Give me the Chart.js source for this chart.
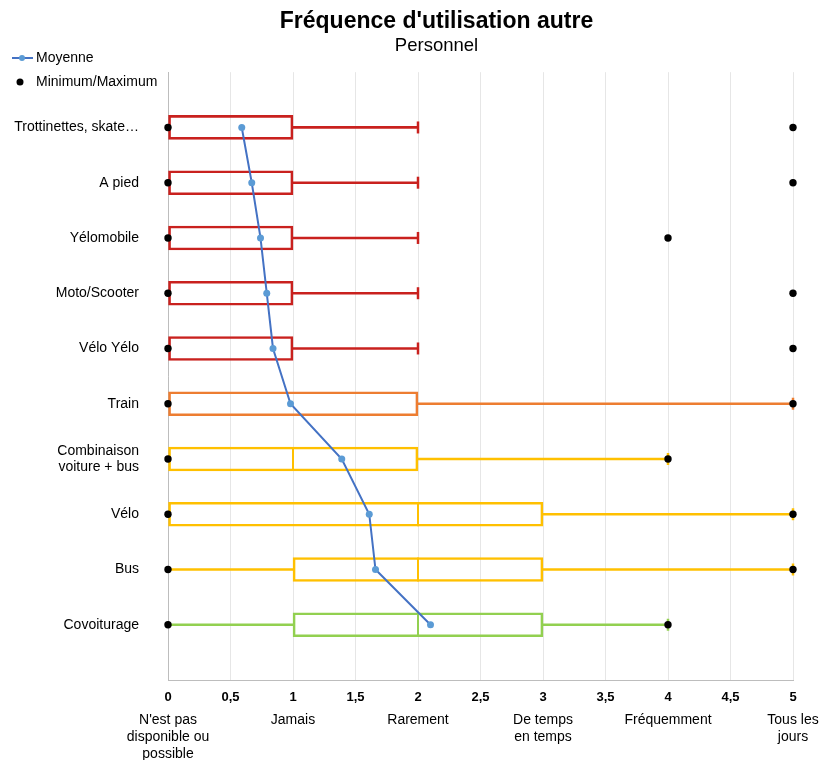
<!DOCTYPE html>
<html lang="fr">
<head>
<meta charset="utf-8">
<title>Fréquence d'utilisation autre</title>
<script src="https://cdn.jsdelivr.net/npm/chart.js@4/dist/chart.umd.min.js"></script>
<style>
  html, body { margin: 0; padding: 0; background: #ffffff; }
  #wrap { width: 831px; height: 760px; }
</style>
</head>
<body>
<div id="wrap"><canvas id="chart" width="831" height="760"></canvas></div>
<script>
// Modes of transport, top to bottom
const categories = [
  'Trottinettes, skate…', 'A pied', 'Yélomobile', 'Moto/Scooter', 'Vélo Yélo',
  'Train', ['Combinaison', 'voiture + bus'], 'Vélo', 'Bus', 'Covoiturage'
];

// Box plot statistics per mode (0 = not available ... 5 = every day)
const minimum      = [0, 0, 0, 0, 0, 0, 0, 0, 0, 0];
const lowWhisker   = [0, 0, 0, 0, 0, 0, 0, 0, 0, 0];
const quartile1    = [0, 0, 0, 0, 0, 0, 0, 0, 1, 1];
const median       = [1, 1, 1, 1, 1, 2, 1, 2, 2, 2];
const quartile3    = [1, 1, 1, 1, 1, 2, 2, 3, 3, 3];
const highWhisker  = [2, 2, 2, 2, 2, 5, 4, 5, 5, 4];
const maximum      = [5, 5, 4, 5, 5, 5, 4, 5, 5, 4];
const mean         = [0.59, 0.67, 0.74, 0.79, 0.84, 0.98, 1.39, 1.61, 1.66, 2.1];

// Axis tick labels
const valueTicks = ['0', '0,5', '1', '1,5', '2', '2,5', '3', '3,5', '4', '4,5', '5'];
const frequencyLabels = [
  ["N'est pas", 'disponible ou', 'possible'],
  'Jamais',
  'Rarement',
  ['De temps', 'en temps'],
  'Fréquemment',
  ['Tous les', 'jours']
];

// Colour of each box
const RED = '#C9211E', ORANGE = '#ED7D31', YELLOW = '#FFC000', GREEN = '#92D050';
const rowColors = [RED, RED, RED, RED, RED, ORANGE, YELLOW, YELLOW, YELLOW, GREEN];

// The category axis carries an empty slot above and below the rows
const pad = arr => [null, ...arr, null];
const yLabels = ['', ...categories, ''];
const colors = pad(rowColors);

const boxes = pad(quartile1.map((q, i) => [q, quartile3[i]]));
const medians = pad(median.map((m, i) => (m > quartile1[i] && m < quartile3[i]) ? m : null));
const lowerWhiskers = pad(lowWhisker.map((w, i) => w < quartile1[i] ? [w, quartile1[i]] : null));
const upperWhiskers = pad(highWhisker.map((w, i) => w > quartile3[i] ? [quartile3[i], w] : null));
const caps = pad(highWhisker.map((w, i) => w > quartile3[i] ? w : null));

const FONT = '"Liberation Sans", Arial, Helvetica, sans-serif';
Chart.defaults.font.family = FONT;
Chart.defaults.color = '#000000';

// Vertical legend in the top-left corner
const sideLegend = {
  id: 'sideLegend',
  afterDraw(chart, args, opts) {
    const ctx = chart.ctx;
    ctx.save();
    ctx.font = '14px ' + FONT;
    ctx.textBaseline = 'middle';
    ctx.textAlign = 'left';
    opts.items.forEach(item => {
      const ds = chart.data.datasets[item.dataset];
      if (ds.showLine !== false) {
        ctx.strokeStyle = ds.borderColor;
        ctx.lineWidth = 2;
        ctx.beginPath();
        ctx.moveTo(item.x, item.y);
        ctx.lineTo(item.x + 21, item.y);
        ctx.stroke();
        ctx.fillStyle = ds.pointBackgroundColor;
        ctx.beginPath();
        ctx.arc(item.x + 10, item.y, 3, 0, Math.PI * 2);
        ctx.fill();
      } else {
        ctx.fillStyle = ds.pointBackgroundColor;
        ctx.beginPath();
        ctx.arc(item.x + 8, item.y, 3.5, 0, Math.PI * 2);
        ctx.fill();
      }
      ctx.fillStyle = '#000000';
      ctx.fillText(ds.label, item.x + 24, item.y);
    });
    ctx.restore();
  }
};

// Long category names reach into the left padding: let the label area start at the canvas edge
const labelRoom = {
  id: 'labelRoom',
  afterLayout(chart) {
    chart.scales.y.left = 0;
  }
};

new Chart(document.getElementById('chart'), {
  type: 'bar',
  plugins: [sideLegend, labelRoom],
  data: {
    labels: yLabels,
    datasets: [
      {
        label: 'Minimum/Maximum',
        type: 'line',
        indexAxis: 'y',
        data: pad(maximum),
        showLine: false,
        clip: false,
        pointRadius: 3.7,
        pointBackgroundColor: '#000000',
        pointBorderColor: '#000000',
        pointBorderWidth: 0,
        order: 0
      },
      {
        label: 'Minimum',
        type: 'line',
        indexAxis: 'y',
        data: pad(minimum),
        showLine: false,
        clip: false,
        pointRadius: 3.7,
        pointBackgroundColor: '#000000',
        pointBorderColor: '#000000',
        pointBorderWidth: 0,
        order: 0
      },
      {
        label: 'Moyenne',
        type: 'line',
        indexAxis: 'y',
        data: pad(mean),
        borderColor: '#4472C4',
        borderWidth: 2,
        pointRadius: 3.5,
        pointBackgroundColor: '#5B9BD5',
        pointBorderColor: '#5B9BD5',
        pointBorderWidth: 0,
        order: 1
      },
      {
        label: 'Médiane',
        type: 'line',
        indexAxis: 'y',
        data: medians,
        showLine: false,
        pointStyle: 'line',
        rotation: 90,
        pointRadius: 12,
        pointBorderWidth: 2,
        pointBorderColor: colors,
        order: 2
      },
      {
        label: 'Extrémité',
        type: 'line',
        indexAxis: 'y',
        data: caps,
        showLine: false,
        clip: false,
        pointStyle: 'line',
        rotation: 90,
        pointRadius: 6,
        pointBorderWidth: 2.5,
        pointBorderColor: colors,
        order: 2
      },
      {
        label: 'Boîte',
        data: boxes,
        grouped: false,
        barThickness: 24,
        borderWidth: 2,
        borderSkipped: false,
        borderColor: colors,
        backgroundColor: 'rgba(0,0,0,0)',
        order: 3
      },
      {
        label: 'Moustache basse',
        data: lowerWhiskers,
        grouped: false,
        barThickness: 2,
        borderWidth: 0,
        backgroundColor: colors,
        order: 3
      },
      {
        label: 'Moustache haute',
        data: upperWhiskers,
        grouped: false,
        barThickness: 2,
        borderWidth: 0,
        backgroundColor: colors,
        order: 3
      }
    ]
  },
  options: {
    indexAxis: 'y',
    responsive: false,
    animation: false,
    layout: { padding: { left: 42, right: 0, top: 0, bottom: 0 } },
    plugins: {
      legend: { display: false },
      tooltip: { enabled: false },
      title: {
        display: true,
        text: "Fréquence d'utilisation autre",
        color: '#000000',
        font: { size: 23, weight: 'bold', lineHeight: 1 },
        padding: { top: 10, bottom: 0 }
      },
      subtitle: {
        display: true,
        text: 'Personnel',
        color: '#000000',
        font: { size: 18.5, weight: 'normal' },
        padding: { top: 2, bottom: 15 }
      },
      sideLegend: {
        items: [
          { dataset: 2, x: 12, y: 58 },
          { dataset: 0, x: 12, y: 82 }
        ]
      }
    },
    scales: {
      x: {
        type: 'linear',
        position: 'bottom',
        min: 0,
        max: 5,
        weight: 0,
        grid: { color: '#E6E6E6', drawTicks: false },
        border: { color: '#BDBDBD' },
        ticks: {
          stepSize: 0.5,
          padding: 10,
          maxRotation: 0,
          autoSkip: false,
          color: '#000000',
          font: { size: 13, weight: 'bold' },
          callback: (v, i) => valueTicks[i]
        },
        afterFit: s => {
          s.height = 24;
          s.paddingRight = Math.max(s.paddingRight, 38);
        }
      },
      x2: {
        type: 'linear',
        position: 'bottom',
        min: 0,
        max: 5,
        weight: 1,
        grid: { display: false, drawTicks: false },
        border: { display: false },
        ticks: {
          stepSize: 1,
          padding: 7.5,
          maxRotation: 0,
          autoSkip: false,
          color: '#000000',
          font: { size: 14, lineHeight: 1.22 },
          callback: (v, i) => frequencyLabels[i]
        },
        afterFit: s => {
          s.height = 56;
          s.paddingRight = Math.max(s.paddingRight, 38);
        }
      },
      y: {
        type: 'category',
        offset: false,
        grid: { display: false, drawTicks: false },
        border: { color: '#BDBDBD' },
        ticks: {
          padding: 29,
          autoSkip: false,
          color: '#000000',
          font: { size: 14, lineHeight: 1.15 }
        },
        afterFit: s => { s.width = 126; }
      }
    }
  }
});
</script>
</body>
</html>
